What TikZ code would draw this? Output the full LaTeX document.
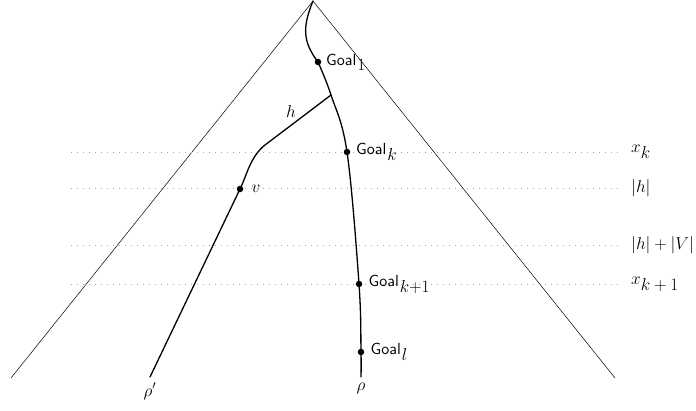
\RequirePackage{fix-cm}
\documentclass[tikz,border=0pt]{standalone}
\usepackage{graphicx}
\usepackage{tikz}
\usetikzlibrary{positioning,calc}
\newcommand{\mathsize}{\fontsize{17.28}{20}\selectfont}
\newcommand{\goal}[1]{{\normalsize\scalebox{1.6}{\textsf{Goal}}}\kern1pt$_{\textstyle #1}$}
\colorlet{levelgray}{black!35}
\tikzset{
  cone/.style={draw=black, line width=0.5pt},
  run/.style={draw=black, line width=1.3pt, line cap=round},
  level/.style={draw=levelgray, line width=0.8pt, dash pattern=on 0.8pt off 5.2pt},
  dot/.style={circle, fill=black, inner sep=0pt, minimum size=6.5pt},
  glabel/.style={font=\mathsize, inner sep=0pt, anchor=west},
  llabel/.style={font=\mathsize, inner sep=0pt, anchor=west},
  mlabel/.style={font=\mathsize, inner sep=0pt},
}
\begin{document}
\begin{tikzpicture}[x=1pt,y=-1pt]
\useasboundingbox (0,0) rectangle (696,410);
% the cone
\coordinate (apex) at (313,1);
\coordinate (lbase) at (11,378);
\coordinate (rbase) at (615,378);
\draw[cone] (lbase) -- (apex) -- (rbase);
% levels
\foreach \yy/\lab/\nm in {152/{$x_{\textstyle k}$}/xk, 188/{$|h|$}/hh, 245/{$|h|+|V|$}/hv, 284/{$x_{\textstyle k+1}$}/xk1}{
  \coordinate (\nm-a) at (71,\yy);
  \node[llabel] (\nm) at (631,\yy) {\lab};
  \draw[level] (\nm-a) -- ($(\nm.west)+(-8,0)$);
}
% points on the run rho
\node[dot] (g1) at (318,62) {};
\coordinate (br) at (331,95);
\node[dot] (gk) at (347,152) {};
\node[dot] (gk1) at (359,284) {};
\node[dot] (gl) at (361,352) {};
\coordinate (rhoend) at (361,377);
\node[glabel, right=4.5pt of g1] {\goal{1}};
\node[glabel, right=5.5pt of gk] {\goal{k}};
\node[glabel, right=6pt of gk1] {\goal{k{+}1}};
\node[glabel, right=6pt of gl] {\goal{l}};
\node[mlabel, below=6pt of rhoend] (rho) {$\rho$};
\draw[run] (apex) .. controls (302,28) and (303,42) .. (g1.center);
\draw[run] plot[smooth, tension=0.6] coordinates {(g1.center) (br) (gk.center) (gk1.center) (gl.center) (rhoend)};
% the branch rho'
\coordinate (bend) at (265,145);
\node[dot] (v) at (240,189) {};
\coordinate (rhopend) at (150,377);
\node[mlabel, right=8pt of v] (vlab) {$v$};
\node[mlabel] (hlab) at (291,111) {$h$};
\node[mlabel, below=6pt of rhopend] (rhop) {$\rho'$};
\draw[run] (br) -- (bend) .. controls (250,157) and (247,175) .. (v.center) -- (rhopend);
\end{tikzpicture}
\end{document}
